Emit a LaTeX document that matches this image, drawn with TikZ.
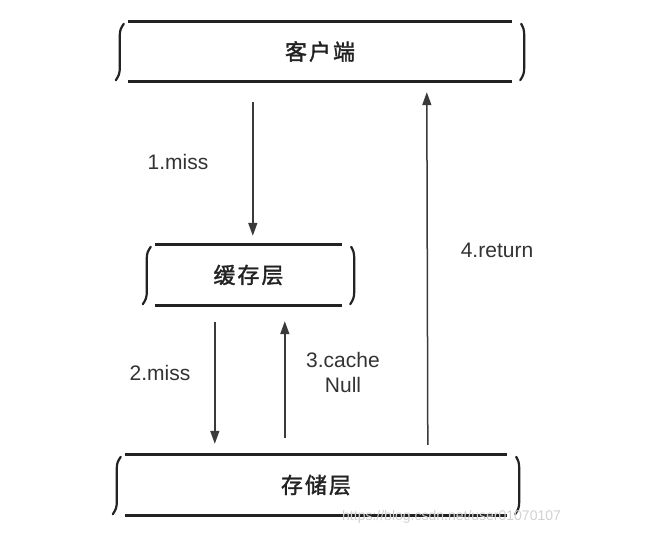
\documentclass[tikz,border=0pt]{standalone}
\usepackage{fontspec}
\setmainfont{Liberation Sans}
\newfontfamily\cjk{Noto Sans CJK SC}[FakeBold=1.5]
\usetikzlibrary{arrows.meta,calc}
\definecolor{ink}{HTML}{222222}
\definecolor{arrowink}{HTML}{3A3A3A}
\definecolor{labelink}{HTML}{333333}
\tikzset{
  layer/.style={rectangle, inner sep=0pt, text=ink, font=\cjk\fontsize{22}{24}\selectfont},
  boxline/.style={draw=ink, line width=2.8pt},
  brackline/.style={draw=ink, line width=2.2pt, line cap=round},
  arr/.style={draw=arrowink, line width=1.5pt, -{Triangle[length=13pt,width=9pt]}},
  lbl/.style={text=labelink, font=\fontsize{21}{25}\selectfont, inner sep=0pt, align=center},
}
\newcommand\layerdeco[1]{%
  \draw[boxline] (#1.north west) -- (#1.north east);
  \draw[boxline] (#1.south west) -- (#1.south east);
  \draw[brackline] ($(#1.north west)+(-4,2)$) to[out=235,in=90] ($(#1.north west)+(-8,13)$)
     -- ($(#1.south west)+(-8,-13)$) to[out=-90,in=55] ($(#1.south west)+(-12,-1)$);
  \draw[brackline] ($(#1.north east)+(9,2)$) to[out=-60,in=90] ($(#1.north east)+(12,13)$)
     -- ($(#1.south east)+(12,-13)$) to[out=-90,in=55] ($(#1.south east)+(8,-1)$);
}
\begin{document}
\begin{tikzpicture}[x=1pt,y=-1pt]
\useasboundingbox (0,0) rectangle (650,545);
\fill[white] (0,0) rectangle (650,545);

\node[layer, minimum width=384pt, minimum height=59pt] (client) at (320,51.5) {客\hspace{2pt}户\hspace{2pt}端};
\node[layer, minimum width=187pt, minimum height=60pt] (cache) at (248.5,275) {缓\hspace{2pt}存\hspace{2pt}层};
\node[layer, minimum width=382pt, minimum height=60pt] (storage) at (316,485) {存\hspace{2pt}储\hspace{2pt}层};

\layerdeco{client}
\layerdeco{cache}
\layerdeco{storage}

\draw[arr] ($(client.south west)+(125,21)$) -- ($(cache.north west)+(98,-9)$);
\draw[arr] ($(cache.south west)+(60,17)$) -- ($(storage.north west)+(90,-11)$);
\draw[arr] ($(storage.north west)+(160,-17)$) -- ($(cache.south west)+(130,16)$);
\draw[arr] ($(storage.north west)+(303,-10)$) -- ($(client.south west)+(299,11)$);

\node[lbl] (l1) at (178,162) {1.miss};
\node[lbl] (l2) at (160,373) {2.miss};
\node[lbl] (l3) at (343,372) {3.cache\\Null};
\node[lbl] (l4) at (497,250) {4.return};

\node[anchor=west, text=gray!35, font=\fontsize{14}{16}\selectfont, inner sep=0pt] (wm) at (342,517) {https://blog.csdn.net/user01070107};
\end{tikzpicture}
\end{document}
